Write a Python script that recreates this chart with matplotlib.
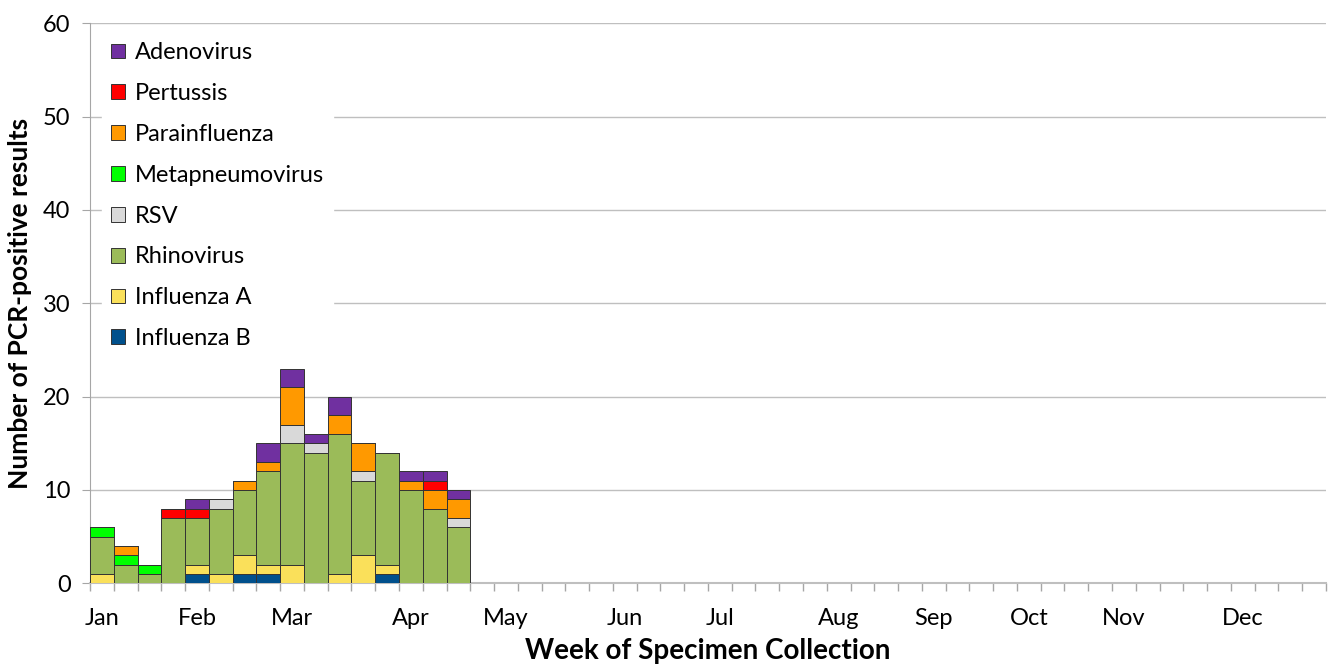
import matplotlib.pyplot as plt
import numpy as np

plt.rcParams['font.family'] = ['Lato', 'DejaVu Sans']

# stacked from bottom to top
series = ['Influenza B', 'Influenza A', 'Rhinovirus', 'RSV',
          'Metapneumovirus', 'Parainfluenza', 'Pertussis', 'Adenovirus']
colors = ['#00508C', '#FAE05A', '#9BBB59', '#D9D9D9',
          '#00FF00', '#FF9900', '#FF0000', '#7030A0']

flu_b = [0, 0, 0, 0, 1, 0, 1, 1, 0, 0, 0, 0, 1, 0, 0, 0]
flu_a = [1, 0, 0, 0, 1, 1, 2, 1, 2, 0, 1, 3, 1, 0, 0, 0]
rhino = [4, 2, 1, 7, 5, 7, 7, 10, 13, 14, 15, 8, 12, 10, 8, 6]
rsv = [0, 0, 0, 0, 0, 1, 0, 0, 2, 1, 0, 1, 0, 0, 0, 1]
metapneumo = [1, 1, 1, 0, 0, 0, 0, 0, 0, 0, 0, 0, 0, 0, 0, 0]
parainfluenza = [0, 1, 0, 0, 0, 0, 1, 1, 4, 0, 2, 3, 0, 1, 2, 2]
pertussis = [0, 0, 0, 1, 1, 0, 0, 0, 0, 0, 0, 0, 0, 0, 1, 0]
adeno = [0, 0, 0, 0, 1, 0, 0, 2, 2, 1, 2, 0, 0, 1, 1, 1]

values = [flu_b, flu_a, rhino, rsv, metapneumo, parainfluenza, pertussis, adeno]

n_weeks = 52
months = ['Jan', 'Feb', 'Mar', 'Apr', 'May', 'Jun', 'Jul', 'Aug', 'Sep', 'Oct', 'Nov', 'Dec']
month_weeks = [0, 4, 8, 13, 17, 22, 26, 31, 35, 39, 43, 48]

fig = plt.figure(figsize=(13.29, 6.66), dpi=100)
ax = fig.add_axes([0.0677, 0.1242, 0.9300, 0.8408])

weeks = np.arange(len(flu_b))
bottom = np.zeros(len(weeks))
handles = []
for name, vals, c in zip(series, values, colors):
    b = ax.bar(weeks, vals, width=1.0, bottom=bottom, color=c,
               edgecolor='#333333', linewidth=0.7, label=name, zorder=3)
    bottom += np.array(vals)
    handles.append(b)

ax.set_xlim(-0.5, n_weeks - 0.5)
ax.set_ylim(0, 60)
ax.set_yticks(range(0, 61, 10))
ax.yaxis.grid(True, color='#BFBFBF', linewidth=1.0, zorder=0)
ax.set_axisbelow(True)

ax.set_xticks(np.arange(n_weeks + 1) - 0.5)
ax.set_xticklabels([])
ax.tick_params(axis='x', which='major', length=6, color='#A6A6A6', width=1)
ax.set_xticks(month_weeks, minor=True)
ax.set_xticklabels(months, minor=True, fontsize=17)
ax.tick_params(axis='x', which='minor', length=0, pad=18)
ax.tick_params(axis='y', length=6, color='#A6A6A6', labelsize=17, pad=8)

for s in ['top', 'right']:
    ax.spines[s].set_visible(False)
ax.spines['left'].set_color('#A6A6A6')
ax.spines['bottom'].set_color('#BFBFBF')
ax.spines['bottom'].set_linewidth(1.5)

ax.set_ylabel('Number of PCR-positive results', fontsize=19, fontweight='bold', labelpad=8)
ax.set_xlabel('Week of Specimen Collection', fontsize=20, fontweight='bold', labelpad=6)

leg = ax.legend(handles[::-1], series[::-1], loc='upper left', bbox_to_anchor=(0.0, 1.004),
                fontsize=17, frameon=True, edgecolor='white', framealpha=1,
                fancybox=False, handlelength=0.6, handleheight=0.6,
                handletextpad=0.4, labelspacing=0.84, borderpad=0.4)
leg.set_zorder(5)

fig.savefig('out.png', dpi=100)
